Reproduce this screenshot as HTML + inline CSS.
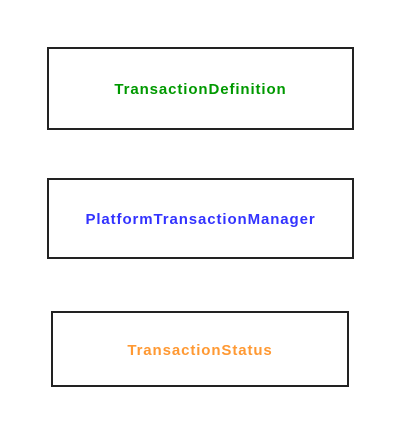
<!DOCTYPE html>
<html><head><style>
html,body{margin:0;padding:0;background:#fff;width:414px;height:448px;overflow:hidden;font-family:"Liberation Sans","DejaVu Sans",sans-serif;}
.b{position:absolute;box-sizing:border-box;border:2px solid #222;display:flex;align-items:center;justify-content:center;font-weight:bold;font-size:15px;letter-spacing:0.9px;padding-top:2px;}
</style></head><body>
<div class="b" style="left:47px;top:47px;width:307px;height:83px;color:#009900">TransactionDefinition</div>
<div class="b" style="left:47px;top:178px;width:307px;height:81px;color:#3333ff">PlatformTransactionManager</div>
<div class="b" style="left:51px;top:311px;width:298px;height:76px;color:#ff9933">TransactionStatus</div>
</body></html>
